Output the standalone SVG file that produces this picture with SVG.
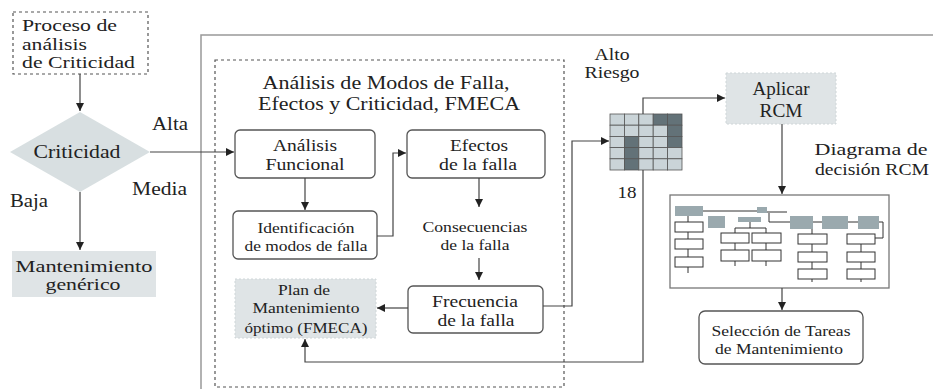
<svg xmlns="http://www.w3.org/2000/svg" width="933" height="389" viewBox="0 0 933 389" font-family="'Liberation Serif', 'Times New Roman', 'DejaVu Serif', serif">
<defs>
<marker id="arr" markerUnits="userSpaceOnUse" markerWidth="9" markerHeight="9" refX="8" refY="4" orient="auto">
<path d="M0,0 L8,4 L0,8 z" fill="#222"/>
</marker>
<style>
text{font-family:'Liberation Serif','Times New Roman','DejaVu Serif',serif;fill:#222;}
.t20{font-size:18px;}
.t17{font-size:16.5px;}
.t18{font-size:17px;}
.t16{font-size:15px;}
.box{fill:#fff;stroke:#555;stroke-width:1.3;}
.gray{fill:#dfe4e6;stroke:none;}
.dash{fill:none;stroke:#555;stroke-width:1.2;stroke-dasharray:3,3;}
.conn{fill:none;stroke:#444;stroke-width:1.2;marker-end:url(#arr);}
.lc{fill:#cad4d8;stroke:#555;stroke-width:0.8;}
.dc{fill:#637278;stroke:#555;stroke-width:0.8;}
.mg{fill:#9aa9ae;stroke:none;}
.mb{fill:#fff;stroke:#333;stroke-width:1;}
.ml{fill:none;stroke:#333;stroke-width:1;}
</style>
</defs>
<rect width="933" height="389" fill="#fff"/>

<g id="frame">
<path d="M933,35 H201 V389" fill="none" stroke="#999" stroke-width="1.5"/>
</g>

<g id="fmeca-frame">
<rect class="dash" x="215" y="60" width="349" height="327"/>
<text class="t20" x="386" y="89" text-anchor="middle" textLength="247" lengthAdjust="spacingAndGlyphs">Análisis de Modos de Falla,</text>
<text class="t20" x="389" y="110" text-anchor="middle" textLength="262" lengthAdjust="spacingAndGlyphs">Efectos y Criticidad, FMECA</text>
</g>

<g id="proceso">
<rect class="dash" x="13" y="12" width="135" height="62"/>
<text class="t17" x="22" y="31" textLength="95" lengthAdjust="spacingAndGlyphs">Proceso de</text>
<text class="t17" x="22" y="50" textLength="65" lengthAdjust="spacingAndGlyphs">análisis</text>
<text class="t17" x="22" y="68" textLength="113" lengthAdjust="spacingAndGlyphs">de Criticidad</text>
</g>

<g id="criticidad">
<polygon points="80,112 150,152 80,192 10,152" fill="#d8dfe1"/>
<text class="t20" x="77" y="158" text-anchor="middle" textLength="87" lengthAdjust="spacingAndGlyphs">Criticidad</text>
</g>

<g id="labels">
<text class="t20" x="152" y="130" textLength="36" lengthAdjust="spacingAndGlyphs">Alta</text>
<text class="t20" x="132" y="195" textLength="55" lengthAdjust="spacingAndGlyphs">Media</text>
<text class="t20" x="10" y="207" textLength="38" lengthAdjust="spacingAndGlyphs">Baja</text>
<text class="t18" x="612" y="60" text-anchor="middle" textLength="35" lengthAdjust="spacingAndGlyphs">Alto</text>
<text class="t18" x="612" y="78" text-anchor="middle" textLength="55" lengthAdjust="spacingAndGlyphs">Riesgo</text>
<text class="t18" x="627" y="198" text-anchor="middle" textLength="19" lengthAdjust="spacingAndGlyphs">18</text>
<text class="t18" x="871" y="155" text-anchor="middle" textLength="113" lengthAdjust="spacingAndGlyphs">Diagrama de</text>
<text class="t18" x="872" y="175" text-anchor="middle" textLength="114" lengthAdjust="spacingAndGlyphs">decisión RCM</text>
</g>

<g id="mant-generico">
<rect class="gray" x="12" y="251" width="144" height="46"/>
<text class="t17" x="84" y="272" text-anchor="middle" textLength="137" lengthAdjust="spacingAndGlyphs">Mantenimiento</text>
<text class="t17" x="83" y="290" text-anchor="middle" textLength="75" lengthAdjust="spacingAndGlyphs">genérico</text>
</g>

<g id="analisis-funcional">
<rect class="box" x="235" y="130" width="140" height="48" rx="5"/>
<text class="t18" x="305" y="151" text-anchor="middle" textLength="64" lengthAdjust="spacingAndGlyphs">Análisis</text>
<text class="t18" x="305" y="170" text-anchor="middle" textLength="79" lengthAdjust="spacingAndGlyphs">Funcional</text>
</g>

<g id="efectos">
<rect class="box" x="407" y="130" width="138" height="48" rx="5"/>
<text class="t18" x="479" y="151" text-anchor="middle" textLength="58" lengthAdjust="spacingAndGlyphs">Efectos</text>
<text class="t18" x="478" y="170" text-anchor="middle" textLength="78" lengthAdjust="spacingAndGlyphs">de la falla</text>
</g>

<g id="identificacion">
<rect class="box" x="233" y="211" width="144" height="48" rx="5"/>
<text class="t16" x="306" y="233" text-anchor="middle" textLength="97" lengthAdjust="spacingAndGlyphs">Identificación</text>
<text class="t16" x="306" y="251" text-anchor="middle" textLength="123" lengthAdjust="spacingAndGlyphs">de modos de falla</text>
</g>

<g id="consecuencias">
<text class="t16" x="475" y="232" text-anchor="middle" textLength="105" lengthAdjust="spacingAndGlyphs">Consecuencias</text>
<text class="t16" x="475" y="250" text-anchor="middle" textLength="69" lengthAdjust="spacingAndGlyphs">de la falla</text>
</g>

<g id="frecuencia">
<rect class="box" x="408" y="286" width="135" height="47" rx="5"/>
<text class="t18" x="475" y="307" text-anchor="middle" textLength="86" lengthAdjust="spacingAndGlyphs">Frecuencia</text>
<text class="t18" x="476" y="326" text-anchor="middle" textLength="77" lengthAdjust="spacingAndGlyphs">de la falla</text>
</g>

<g id="plan">
<rect x="235" y="279" width="141" height="59" fill="#dfe4e6" stroke="#cfd6d8" stroke-width="1" stroke-dasharray="2,2"/>
<text class="t16" x="304" y="295" text-anchor="middle" textLength="52" lengthAdjust="spacingAndGlyphs">Plan de</text>
<text class="t16" x="306" y="313" text-anchor="middle" textLength="107" lengthAdjust="spacingAndGlyphs">Mantenimiento</text>
<text class="t16" x="306" y="333" text-anchor="middle" textLength="123" lengthAdjust="spacingAndGlyphs">óptimo (FMECA)</text>
</g>

<g id="matriz">
<rect class="lc" x="610" y="114" width="14.4" height="11.2"/>
<rect class="lc" x="624.4" y="114" width="14.4" height="11.2"/>
<rect class="lc" x="638.8" y="114" width="14.4" height="11.2"/>
<rect class="dc" x="653.2" y="114" width="14.4" height="11.2"/>
<rect class="dc" x="667.6" y="114" width="14.4" height="11.2"/>
<rect class="lc" x="610" y="125.2" width="14.4" height="11.2"/>
<rect class="lc" x="624.4" y="125.2" width="14.4" height="11.2"/>
<rect class="lc" x="638.8" y="125.2" width="14.4" height="11.2"/>
<rect class="lc" x="653.2" y="125.2" width="14.4" height="11.2"/>
<rect class="dc" x="667.6" y="125.2" width="14.4" height="11.2"/>
<rect class="lc" x="610" y="136.4" width="14.4" height="11.2"/>
<rect class="dc" x="624.4" y="136.4" width="14.4" height="11.2"/>
<rect class="lc" x="638.8" y="136.4" width="14.4" height="11.2"/>
<rect class="lc" x="653.2" y="136.4" width="14.4" height="11.2"/>
<rect class="dc" x="667.6" y="136.4" width="14.4" height="11.2"/>
<rect class="lc" x="610" y="147.6" width="14.4" height="11.2"/>
<rect class="dc" x="624.4" y="147.6" width="14.4" height="11.2"/>
<rect class="lc" x="638.8" y="147.6" width="14.4" height="11.2"/>
<rect class="lc" x="653.2" y="147.6" width="14.4" height="11.2"/>
<rect class="lc" x="667.6" y="147.6" width="14.4" height="11.2"/>
<rect class="lc" x="610" y="158.8" width="14.4" height="11.2"/>
<rect class="dc" x="624.4" y="158.8" width="14.4" height="11.2"/>
<rect class="lc" x="638.8" y="158.8" width="14.4" height="11.2"/>
<rect class="lc" x="653.2" y="158.8" width="14.4" height="11.2"/>
<rect class="lc" x="667.6" y="158.8" width="14.4" height="11.2"/>
</g>

<g id="aplicar-rcm">
<rect x="726" y="73" width="110" height="51" fill="#dfe4e6" stroke="#cfd6d8" stroke-width="1" stroke-dasharray="2,2"/>
<text class="t20" x="781" y="95" text-anchor="middle" textLength="57" lengthAdjust="spacingAndGlyphs">Aplicar</text>
<text class="t20" x="781" y="117" text-anchor="middle" textLength="43" lengthAdjust="spacingAndGlyphs">RCM</text>
</g>

<g id="diagrama-rcm">
<rect x="670" y="195" width="219" height="93" fill="#fff" stroke="#777" stroke-width="1.3"/>
<rect class="mg" x="675" y="206" width="28" height="10"/>
<rect class="mg" x="757" y="207" width="10" height="6"/>
<rect class="mg" x="708" y="216" width="17" height="12"/>
<rect class="mg" x="738" y="217" width="23" height="5"/>
<path class="ml" d="M703,211 H757 M767,212 H787 M769,213 V222 H883 V238 H875"/>
<rect class="mg" x="790" y="216" width="23" height="13"/>
<rect class="mg" x="822" y="216" width="26" height="13"/>
<rect class="mg" x="858" y="216" width="21" height="13"/>
<path class="ml" d="M688,216 V273"/>
<rect class="mb" x="675" y="222" width="28" height="10"/>
<rect class="mb" x="675" y="239" width="28" height="10"/>
<rect class="mb" x="675" y="257" width="28" height="10"/>
<path class="ml" d="M750,222 V228 M735,228 H766 M735,228 V266 M766,228 V266"/>
<rect class="mb" x="721" y="233" width="28" height="10"/>
<rect class="mb" x="752" y="233" width="29" height="10"/>
<rect class="mb" x="721" y="250" width="28" height="11"/>
<rect class="mb" x="752" y="250" width="29" height="11"/>
<path class="ml" d="M812,229 V282 M861,238 V282"/>
<rect class="mb" x="798" y="234" width="29" height="10"/>
<rect class="mb" x="798" y="252" width="29" height="10"/>
<rect class="mb" x="798" y="269" width="29" height="10"/>
<rect class="mb" x="847" y="234" width="28" height="10"/>
<rect class="mb" x="847" y="252" width="28" height="10"/>
<rect class="mb" x="847" y="269" width="28" height="10"/>
</g>

<g id="seleccion">
<rect class="box" x="699" y="311" width="164" height="53" rx="6"/>
<text class="t16" x="781" y="336" text-anchor="middle" textLength="139" lengthAdjust="spacingAndGlyphs">Selección de Tareas</text>
<text class="t16" x="779" y="354" text-anchor="middle" textLength="128" lengthAdjust="spacingAndGlyphs">de Mantenimiento</text>
</g>

<g id="connectors">
<path class="conn" d="M80,74 V111"/>
<path class="conn" d="M150,152 H234"/>
<path class="conn" d="M80,192 V250"/>
<path class="conn" d="M305,178 V210"/>
<path class="conn" d="M377,236 H393 V153 H406"/>
<path class="conn" d="M479,178 V207"/>
<path class="conn" d="M479,258 V280"/>
<path class="conn" d="M408,308 H377"/>
<path class="conn" d="M543,306 H572 V141 H609"/>
<path class="conn" d="M643,114 V98 H725"/>
<path class="conn" d="M643,170 V362 H305 V339"/>
<path class="conn" d="M782,124 V194"/>
<path class="conn" d="M782,288 V310"/>
</g>
</svg>
